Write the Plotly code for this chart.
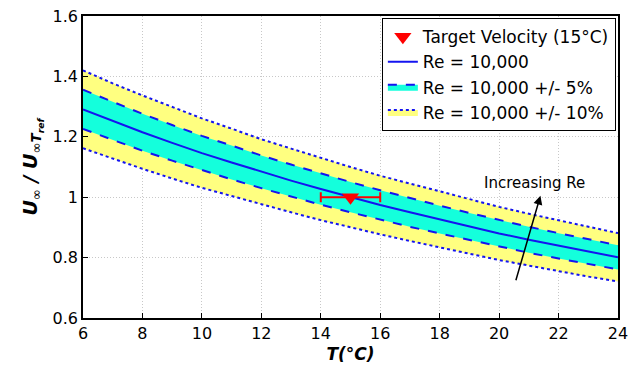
import plotly.graph_objects as go

temps = [6, 7, 8, 9, 10, 11, 12, 13, 14, 15, 16, 17, 18, 19, 20, 21, 22, 23, 24]
u_center = [1.291, 1.252, 1.215, 1.180, 1.146, 1.115, 1.084, 1.055, 1.027, 1.000,
             0.974, 0.950, 0.926, 0.903, 0.880, 0.859, 0.839, 0.819, 0.801]
u_plus5 = [1.356, 1.315, 1.276, 1.239, 1.203, 1.171, 1.138, 1.108, 1.078, 1.050,
           1.023, 0.997, 0.972, 0.948, 0.924, 0.902, 0.881, 0.860, 0.841]
u_minus5 = [1.226, 1.189, 1.154, 1.121, 1.089, 1.059, 1.030, 1.002, 0.975, 0.950,
            0.925, 0.902, 0.880, 0.858, 0.836, 0.816, 0.797, 0.778, 0.761]
u_plus10 = [1.420, 1.377, 1.337, 1.298, 1.261, 1.227, 1.192, 1.161, 1.130, 1.100,
            1.071, 1.045, 1.019, 0.993, 0.968, 0.945, 0.923, 0.901, 0.881]
u_minus10 = [1.162, 1.127, 1.094, 1.062, 1.031, 1.004, 0.976, 0.950, 0.924, 0.900,
             0.877, 0.855, 0.833, 0.813, 0.792, 0.773, 0.755, 0.737, 0.721]

target_T = [15]
target_U = [1.0]
target_err = [1.0]

arrow_tail = (20.55, 0.72)
arrow_head = (21.39, 1.005)

BLUE = "#1414f0"
YELLOW = "#ffff80"
CYAN = "#14ffdc"
FONT = "DejaVu Sans"

fig = go.Figure()

fig.add_trace(go.Scatter(x=temps, y=u_minus10, mode="lines",
                         line=dict(color=BLUE, width=2, dash="dot"),
                         showlegend=False, hoverinfo="skip"))
fig.add_trace(go.Scatter(x=temps, y=u_plus10, mode="lines", fill="tonexty",
                         fillcolor=YELLOW,
                         line=dict(color=BLUE, width=2, dash="dot"),
                         name="Re = 10,000 +/- 10%", legendrank=4))
fig.add_trace(go.Scatter(x=temps, y=u_minus5, mode="lines",
                         line=dict(color=BLUE, width=2, dash="dash"),
                         showlegend=False, hoverinfo="skip"))
fig.add_trace(go.Scatter(x=temps, y=u_plus5, mode="lines", fill="tonexty",
                         fillcolor=CYAN,
                         line=dict(color=BLUE, width=2, dash="dash"),
                         name="Re = 10,000 +/- 5%", legendrank=3))
fig.add_trace(go.Scatter(x=temps, y=u_center, mode="lines",
                         line=dict(color=BLUE, width=2),
                         name="Re = 10,000", legendrank=2))
fig.add_trace(go.Scatter(x=target_T, y=target_U, mode="markers",
                         marker=dict(symbol="triangle-down", color="#ff0000", size=15),
                         error_x=dict(type="data", array=target_err, color="#ff0000",
                                      thickness=2, width=5),
                         name="Target Velocity (15\u00b0C)", legendrank=1))

fig.add_annotation(x=arrow_head[0], y=arrow_head[1], ax=arrow_tail[0], ay=arrow_tail[1],
                   xref="x", yref="y", axref="x", ayref="y",
                   showarrow=True, arrowhead=2, arrowsize=1.2, arrowwidth=1.5,
                   arrowcolor="black", text="")
fig.add_annotation(x=21.2, y=1.047, xref="x", yref="y", text="Increasing Re",
                   showarrow=False, font=dict(family=FONT, size=15, color="black"))

axis_common = dict(showline=True, linecolor="black", linewidth=1.5, mirror=True,
                   showgrid=True, gridcolor="#c8c8c8", griddash="1px,2px", gridwidth=1,
                   ticks="inside", ticklen=5, tickcolor="black", automargin=False,
                   ticklabeloverflow="allow",
                   tickfont=dict(family=FONT, size=16, color="black"), zeroline=False)

fig.update_layout(
    width=629, height=377,
    margin=dict(l=83, r=11, t=16, b=59),
    paper_bgcolor="white", plot_bgcolor="white",
    xaxis=dict(range=[6, 24], dtick=2,
               title=dict(text="<b><i>T(\u00b0C)</i></b>", font=dict(family=FONT, size=17, color="black"),
                          standoff=6),
               **axis_common),
    yaxis=dict(range=[0.6, 1.6], dtick=0.2,
               title=dict(text="<b><i>U</i></b><sub>\u221e</sub><b><i> / U</i></b><sub>\u221e<b><i>T</i></b><sub><b><i>ref</i></b></sub></sub>",
                          font=dict(family=FONT, size=19, color="black"), standoff=10),
               **axis_common),
    legend=dict(x=0.996, y=0.993, xanchor="right", yanchor="top",
                bgcolor="white", bordercolor="black", borderwidth=1,
                font=dict(family=FONT, size=17, color="black"),
                traceorder="normal", tracegroupgap=0, itemwidth=30),
    showlegend=True,
)

fig.write_html("out.html", config={"displayModeBar": False},
               post_script="document.body.style.margin='0px';")
